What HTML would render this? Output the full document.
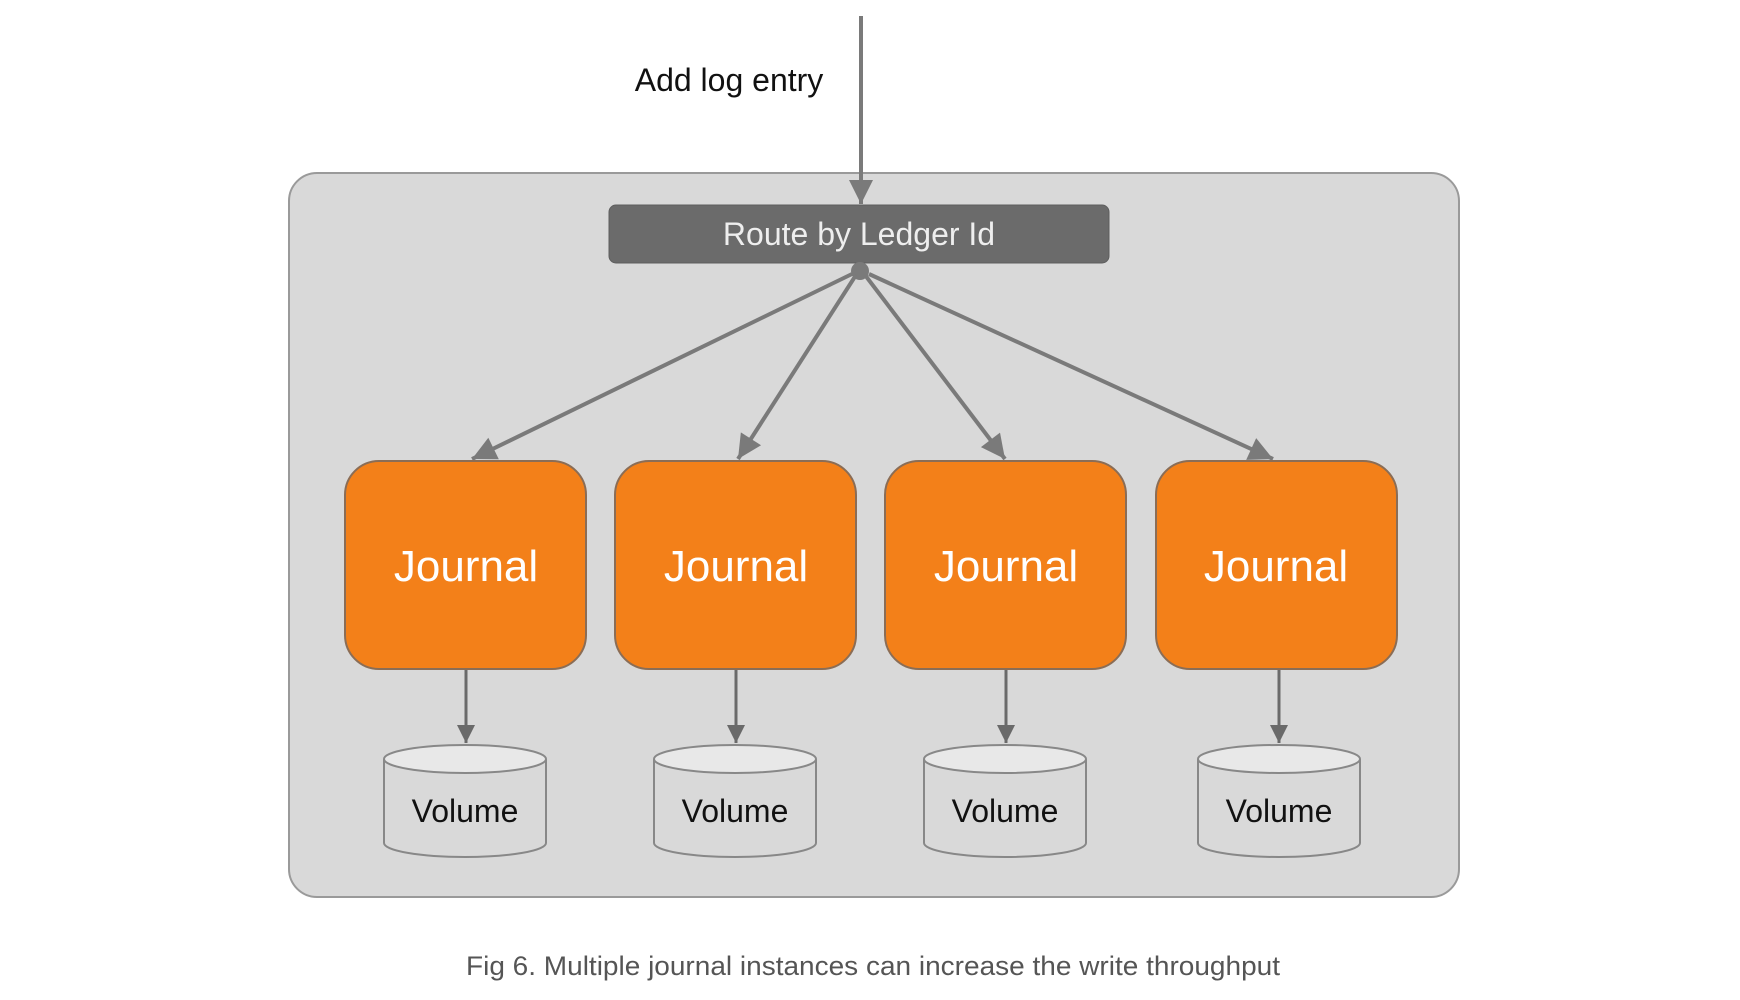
<!DOCTYPE html>
<html><head><meta charset="utf-8"><style>html,body{margin:0;padding:0;background:#fff;}svg{display:block;}</style></head>
<body>
<svg width="1740" height="1000" viewBox="0 0 1740 1000" xmlns="http://www.w3.org/2000/svg" font-family="'Liberation Sans', Arial, sans-serif">
<defs>
<marker id="ah" viewBox="0 0 10 10" refX="10" refY="5" markerWidth="6.5" markerHeight="6" markerUnits="strokeWidth" orient="auto"><path d="M0,0 L10,5 L0,10 z" fill="#7a7a7a"/></marker>
<marker id="ah2" viewBox="0 0 10 10" refX="10" refY="5" markerWidth="7" markerHeight="6" markerUnits="strokeWidth" orient="auto"><path d="M0,0 L10,5 L0,10 z" fill="#6a6a6a"/></marker>
</defs>
<rect x="289" y="173" width="1170" height="724" rx="28" fill="#d9d9d9" stroke="#9a9a9a" stroke-width="2"/>
<line x1="861" y1="16" x2="861" y2="204" stroke="#7a7a7a" stroke-width="4" marker-end="url(#ah)"/>
<text x="729" y="91" font-size="32" fill="#111" text-anchor="middle">Add log entry</text>
<rect x="609" y="205" width="500" height="58" rx="7" fill="#6b6b6b" stroke="#5e5e5e" stroke-width="1"/>
<text x="859" y="245" font-size="32" fill="#eeeeee" text-anchor="middle">Route by Ledger Id</text>
<circle cx="860" cy="271" r="9" fill="#7a7a7a"/>
<g stroke="#7a7a7a" stroke-width="4" fill="none">
<line x1="852" y1="274" x2="472" y2="459" marker-end="url(#ah)"/>
<line x1="856" y1="275" x2="738" y2="459" marker-end="url(#ah)"/>
<line x1="865" y1="275" x2="1005" y2="459" marker-end="url(#ah)"/>
<line x1="869" y1="274" x2="1273" y2="459" marker-end="url(#ah)"/>
</g>
<g fill="#f38019" stroke="#8a6d56" stroke-width="2">
<rect x="345" y="461" width="241" height="208" rx="34"/>
<rect x="615" y="461" width="241" height="208" rx="34"/>
<rect x="885" y="461" width="241" height="208" rx="34"/>
<rect x="1156" y="461" width="241" height="208" rx="34"/>
</g>
<g font-size="44" fill="#fff" text-anchor="middle">
<text x="466" y="581">Journal</text>
<text x="736" y="581">Journal</text>
<text x="1006" y="581">Journal</text>
<text x="1276" y="581">Journal</text>
</g>
<g stroke="#6a6a6a" stroke-width="3">
<line x1="466" y1="670" x2="466" y2="743" marker-end="url(#ah2)"/>
<line x1="736" y1="670" x2="736" y2="743" marker-end="url(#ah2)"/>
<line x1="1006" y1="670" x2="1006" y2="743" marker-end="url(#ah2)"/>
<line x1="1279" y1="670" x2="1279" y2="743" marker-end="url(#ah2)"/>
</g>
<g stroke="#888" stroke-width="2">
<g transform="translate(465,0)"><path d="M-81,759 L-81,843 A81,14 0 0 0 81,843 L81,759" fill="#d9d9d9"/><ellipse cx="0" cy="759" rx="81" ry="14" fill="#e8e8e8"/></g>
<g transform="translate(735,0)"><path d="M-81,759 L-81,843 A81,14 0 0 0 81,843 L81,759" fill="#d9d9d9"/><ellipse cx="0" cy="759" rx="81" ry="14" fill="#e8e8e8"/></g>
<g transform="translate(1005,0)"><path d="M-81,759 L-81,843 A81,14 0 0 0 81,843 L81,759" fill="#d9d9d9"/><ellipse cx="0" cy="759" rx="81" ry="14" fill="#e8e8e8"/></g>
<g transform="translate(1279,0)"><path d="M-81,759 L-81,843 A81,14 0 0 0 81,843 L81,759" fill="#d9d9d9"/><ellipse cx="0" cy="759" rx="81" ry="14" fill="#e8e8e8"/></g>
</g>
<g font-size="32" fill="#111" text-anchor="middle">
<text x="465" y="822">Volume</text>
<text x="735" y="822">Volume</text>
<text x="1005" y="822">Volume</text>
<text x="1279" y="822">Volume</text>
</g>
<text x="466" y="975" font-size="27" fill="#555" textLength="814" lengthAdjust="spacingAndGlyphs">Fig 6. Multiple journal instances can increase the write throughput</text>
</svg>
</body></html>
